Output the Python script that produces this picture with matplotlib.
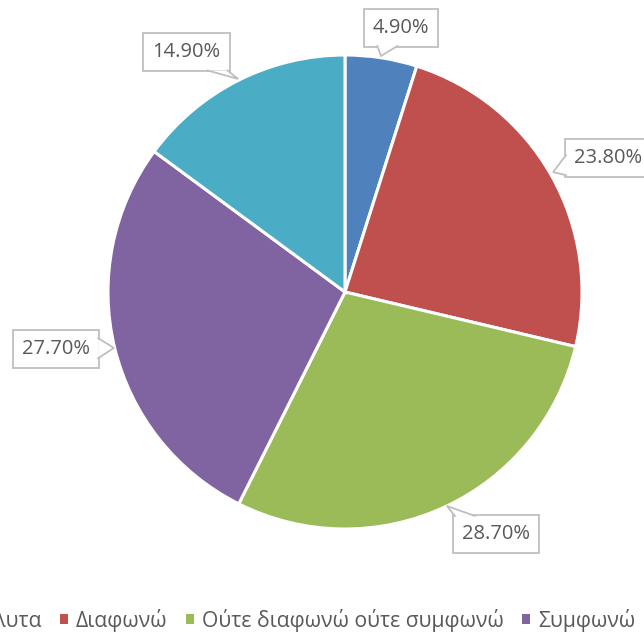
import matplotlib
matplotlib.use("Agg")
import matplotlib.pyplot as plt
from matplotlib.patches import Patch, Polygon

plt.rcParams["font.family"] = ["Open Sans", "DejaVu Sans"]

categories = ["Διαφωνώ απόλυτα", "Διαφωνώ", "Ούτε διαφωνώ ούτε συμφωνώ", "Συμφωνώ", "Συμφωνώ απόλυτα"]
shares = [4.9, 23.8, 28.7, 27.7, 14.9]
colors = ["#4F81BD", "#C0504D", "#9BBB59", "#8064A2", "#4BACC6"]

# callout placement in pie-radius units: box centre and pointer tip
label_xy = [(0.236, 1.114), (1.110, 0.565), (0.637, -1.021), (-1.219, -0.241), (-0.669, 1.011)]
tip_xy = [(0.152, 0.996), (0.878, 0.506), (0.430, -0.903), (-0.975, -0.236), (-0.451, 0.899)]

W, H = 644, 633
cx, cy, R = 345, 292, 237  # pie centre (px from top-left) and radius
GREY = "#BFBFBF"


def pointer_base(bb, tip, width=20):
    """Two points on the box edge facing the tip, `width` px apart."""
    mx, my = (bb.x0 + bb.x1) / 2, (bb.y0 + bb.y1) / 2
    dx, dy = tip[0] - mx, tip[1] - my
    sx = (bb.width / 2) / abs(dx) if dx else float("inf")
    sy = (bb.height / 2) / abs(dy) if dy else float("inf")
    half = width / 2
    if sy < sx:  # leaves through top or bottom
        y = bb.y1 - 1 if dy > 0 else bb.y0 + 1
        x = min(max(mx + dx * sy, bb.x0 + half + 2), bb.x1 - half - 2)
        return (x - half, y), (x + half, y)
    x = bb.x1 - 1 if dx > 0 else bb.x0 + 1
    y = min(max(my + dy * sx, bb.y0 + half + 2), bb.y1 - half - 2)
    return (x, y - half), (x, y + half)


fig = plt.figure(figsize=(W / 100, H / 100), dpi=100)
ax = fig.add_axes([0, 0, 1, 1])
ax.pie(shares, colors=colors, startangle=90, counterclock=False, radius=1,
       wedgeprops=dict(edgecolor="white", linewidth=2.2))
ax.set_xlim(-cx / R, (W - cx) / R)
ax.set_ylim(-(H - cy) / R, cy / R)
ax.set_aspect("auto")
ax.axis("off")

callouts = []
for val, (lx, ly) in zip(shares, label_xy):
    callouts.append(ax.text(lx, ly, f"{val:.2f}%", ha="center", va="center",
                            fontsize=14.5, color="#595959", zorder=3,
                            bbox=dict(boxstyle="square,pad=0.45", fc="white", ec=GREY, lw=1.3)))

handles = [Patch(facecolor=c, edgecolor="none") for c in colors]
leg = fig.legend(handles, categories, loc="center left", ncol=5, frameon=False,
                 bbox_to_anchor=(0, 13 / H), fontsize=15.2, labelcolor="#595959",
                 handlelength=0.38, handleheight=0.38, handletextpad=0.4,
                 columnspacing=0.85)

fig.canvas.draw()

# callout pointers from each box to its slice
inv = ax.transData.inverted()
for txt, tip in zip(callouts, tip_xy):
    bb = txt.get_bbox_patch().get_window_extent()
    tip_px = ax.transData.transform(tip)
    a, b = pointer_base(bb, tip_px)
    pts = inv.transform([a, tip_px, b])
    ax.add_patch(Polygon(pts, closed=True, fc="white", ec="none", zorder=4))
    ax.plot(pts[:, 0], pts[:, 1], color=GREY, lw=1.3, zorder=5, solid_joinstyle="miter")

# shift the legend so the second entry's text starts at x=76 px
x0 = leg.get_texts()[1].get_window_extent().x0
leg.set_bbox_to_anchor(((76 - x0) / W, 13 / H), transform=fig.transFigure)

fig.savefig("out.png", dpi=100)
